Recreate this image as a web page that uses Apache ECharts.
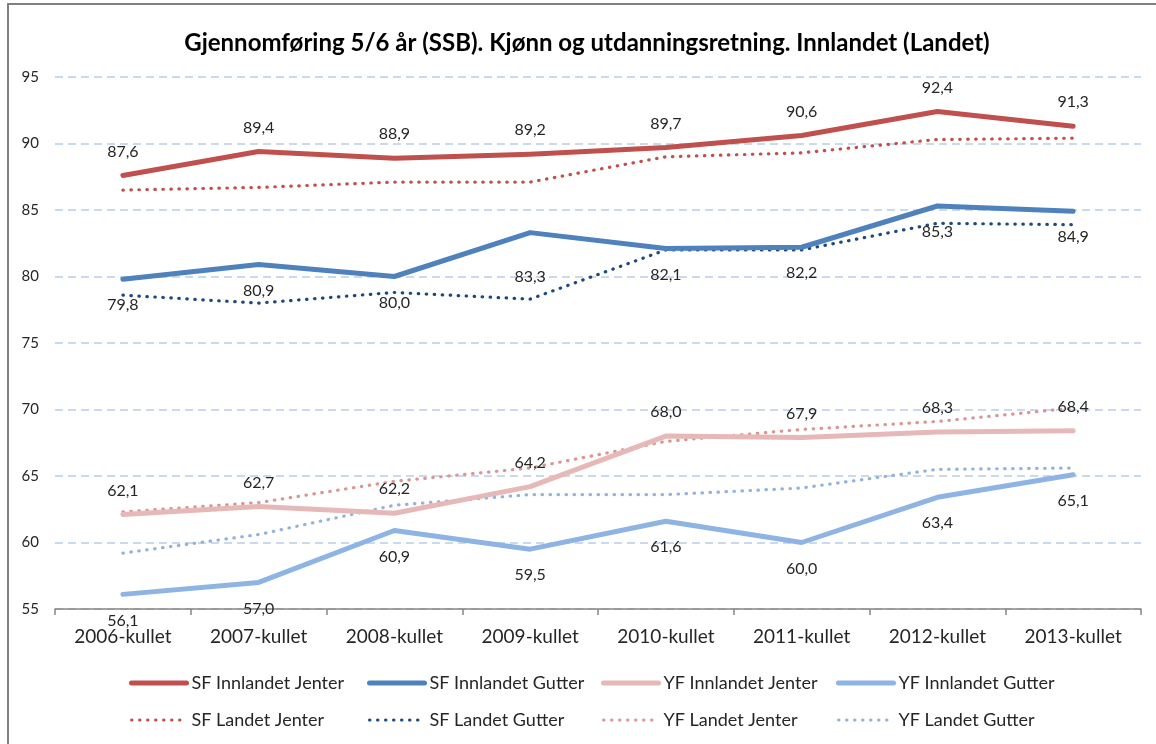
<!DOCTYPE html>
<html>
<head>
<meta charset="utf-8">
<script src="https://cdn.jsdelivr.net/npm/echarts@6/dist/echarts.min.js"></script>
<style>
html,body{margin:0;padding:0;background:#fff;}
#c{width:1156px;height:744px;}
</style>
</head>
<body>
<div id="c"></div>
<script>
const titleText = 'Gjennomføring 5/6 år (SSB). Kjønn og utdanningsretning. Innlandet (Landet)';
const categories = ['2006-kullet','2007-kullet','2008-kullet','2009-kullet','2010-kullet','2011-kullet','2012-kullet','2013-kullet'];
const sfInnlandetJenter = [87.6, 89.4, 88.9, 89.2, 89.7, 90.6, 92.4, 91.3];
const sfInnlandetGutter = [79.8, 80.9, 80.0, 83.3, 82.1, 82.2, 85.3, 84.9];
const yfInnlandetJenter = [62.1, 62.7, 62.2, 64.2, 68.0, 67.9, 68.3, 68.4];
const yfInnlandetGutter = [56.1, 57.0, 60.9, 59.5, 61.6, 60.0, 63.4, 65.1];
const sfLandetJenter = [86.5, 86.7, 87.1, 87.1, 89.0, 89.3, 90.3, 90.4];
const sfLandetGutter = [78.6, 78.0, 78.8, 78.3, 82.0, 82.0, 84.0, 83.9];
const yfLandetJenter = [62.3, 63.0, 64.6, 65.6, 67.6, 68.5, 69.1, 70.1];
const yfLandetGutter = [59.2, 60.6, 62.8, 63.6, 63.6, 64.1, 65.5, 65.6];
const yTicks = [55, 60, 65, 70, 75, 80, 85, 90, 95];

const FONT = 'Lato, "Open Sans", sans-serif';
const fmtNum = v => v.toFixed(1).replace('.', ',');

// label vertical offsets in px (styling only): default by side, plus per-point tweaks
const labelOffsetOverride = { 'SF Innlandet Gutter': { 3: 44 } };
const labelledSeries = [
  ['SF Innlandet Jenter', sfInnlandetJenter, 'top'],
  ['SF Innlandet Gutter', sfInnlandetGutter, 'bottom'],
  ['YF Innlandet Jenter', yfInnlandetJenter, 'top'],
  ['YF Innlandet Gutter', yfInnlandetGutter, 'bottom']
];

function solid(name, data, color) {
  return {
    name, type: 'line', data,
    symbol: 'circle', symbolSize: 1, showSymbol: false,
    itemStyle: { color: 'rgba(0,0,0,0)' },
    lineStyle: { color, width: 5, cap: 'round', join: 'round' },
    emphasis: { disabled: true }, z: 3
  };
}
function dotted(name, data, color) {
  return {
    name, type: 'line', data,
    symbol: 'circle', symbolSize: 1, showSymbol: false,
    itemStyle: { color: 'rgba(0,0,0,0)' },
    lineStyle: { color, width: 3.2, type: [0.5, 7.5], cap: 'round' },
    emphasis: { disabled: true }, z: 2
  };
}

const legendBase = {
  orient: 'vertical', top: 668, itemWidth: 55, itemHeight: 14, itemGap: 17,
  selectedMode: false,
  textStyle: { fontFamily: FONT, fontSize: 18, color: '#262626', lineHeight: 20 }
};
function legendCol(left, solidName, dottedName) {
  return Object.assign({}, legendBase, {
    left,
    data: [
      { name: solidName, lineStyle: { width: 5 } },
      { name: dottedName, lineStyle: { width: 3 } }
    ]
  });
}

const chart = echarts.init(document.getElementById('c'), null, { renderer: 'canvas' });
chart.setOption({
  animation: false,
  backgroundColor: '#fff',
  title: {
    text: titleText, left: 582, textAlign: 'center', top: 26,
    textStyle: { fontFamily: FONT, fontSize: 24, fontWeight: 'bold', color: '#000' }
  },
  legend: [
    legendCol(124, 'SF Innlandet Jenter', 'SF Landet Jenter'),
    legendCol(362, 'SF Innlandet Gutter', 'SF Landet Gutter'),
    legendCol(596, 'YF Innlandet Jenter', 'YF Landet Jenter'),
    legendCol(831, 'YF Innlandet Gutter', 'YF Landet Gutter')
  ],
  grid: { left: 55, right: 15, top: 77, bottom: 135, containLabel: false },
  xAxis: {
    type: 'category', data: categories, boundaryGap: true,
    axisLine: { lineStyle: { color: '#868686', width: 1.5 } },
    axisTick: { show: true, length: 6, lineStyle: { color: '#868686', width: 1.5 } },
    axisLabel: { fontFamily: FONT, fontSize: 19, color: '#262626', margin: 18 },
    splitLine: { show: false }
  },
  yAxis: {
    type: 'value', min: yTicks[0], max: yTicks[yTicks.length - 1], interval: 5,
    axisLine: { show: false }, axisTick: { show: false },
    axisLabel: { fontFamily: FONT, fontSize: 15, color: '#262626', margin: 16 },
    splitLine: { lineStyle: { color: '#B9CDE5', width: 1.5, type: [8, 5] } }
  },
  series: [
    dotted('SF Landet Jenter', sfLandetJenter, '#C0504D'),
    dotted('SF Landet Gutter', sfLandetGutter, '#1F497D'),
    dotted('YF Landet Jenter', yfLandetJenter, '#DA9694'),
    dotted('YF Landet Gutter', yfLandetGutter, '#95B3D7'),
    solid('SF Innlandet Jenter', sfInnlandetJenter, '#C0504D'),
    solid('SF Innlandet Gutter', sfInnlandetGutter, '#4F81BD'),
    solid('YF Innlandet Jenter', yfInnlandetJenter, '#E6B9B8'),
    solid('YF Innlandet Gutter', yfInnlandetGutter, '#8DB4E2')
  ]
});

// Data labels: positioned through the chart's own coordinate conversion
const labelElems = [];
labelledSeries.forEach(([name, data, side]) => {
  const baseOff = side === 'top' ? -24 : 26;
  const ov = labelOffsetOverride[name] || {};
  data.forEach((v, i) => {
    const pt = chart.convertToPixel({ gridIndex: 0 }, [i, v]);
    const dy = ov[i] != null ? ov[i] : baseOff;
    labelElems.push({
      type: 'text', x: pt[0], y: pt[1] + dy, z: 100, silent: true,
      style: { text: fmtNum(v), align: 'center', verticalAlign: 'middle',
        fill: '#262626', fontFamily: FONT, fontSize: 16 }
    });
  });
});
chart.setOption({
  graphic: [{
    type: 'rect', shape: { x: 8, y: 4, width: 1200, height: 800 },
    style: { fill: 'none', stroke: '#808080', lineWidth: 2 }, silent: true
  }].concat(labelElems)
});
</script>
</body>
</html>
